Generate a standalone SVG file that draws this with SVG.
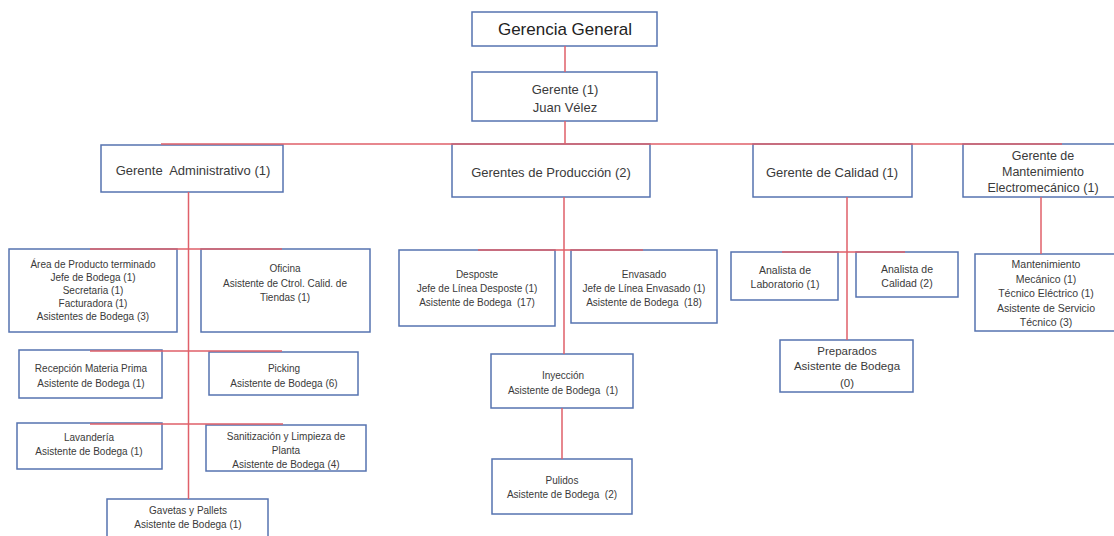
<svg xmlns="http://www.w3.org/2000/svg" width="1114" height="536" viewBox="0 0 1114 536">
<style>
.box{fill:#ffffff;stroke:#5673b0;stroke-width:1.5}
.t{font-family:"Liberation Sans",Arial,sans-serif;fill:#3a3a3a;text-anchor:middle}
.xl{font-size:17px;fill:#222}
.l{font-size:13px}
.m{font-size:12.5px}
.s{font-size:10px}
.s2{font-size:10.5px}
.s3{font-size:11.5px}
.c{fill:none;stroke:#e0606a;stroke-width:1.5}
</style>
<rect width="1114" height="536" fill="#ffffff"/>
<g id="gerencia-general">
<rect class="box" x="472" y="12" width="185" height="34"/>
<text class="t xl" x="565" y="35">Gerencia General</text>
</g>
<g id="gerente">
<rect class="box" x="472" y="72" width="185" height="49"/>
<text class="t l" x="565" y="93.5">Gerente (1)</text>
<text class="t l" x="565" y="111.5">Juan Vélez</text>
</g>
<g id="gerente-administrativo">
<rect class="box" x="101" y="145" width="182" height="47"/>
<text class="t l" x="193" y="174.5" xml:space="preserve">Gerente  Administrativo (1)</text>
</g>
<g id="gerentes-produccion">
<rect class="box" x="452" y="144" width="198" height="53"/>
<text class="t l" x="551" y="176.5">Gerentes de Producción (2)</text>
</g>
<g id="gerente-calidad">
<rect class="box" x="753" y="144" width="159" height="53"/>
<text class="t l" x="832" y="176.5">Gerente de Calidad (1)</text>
</g>
<g id="gerente-mantenimiento">
<rect class="box" x="963" y="144" width="160" height="53"/>
<text class="t m" x="1043" y="159.5">Gerente de</text>
<text class="t m" x="1043" y="175.5">Mantenimiento</text>
<text class="t m" x="1043" y="191.5">Electromecánico (1)</text>
</g>
<g id="area-producto-terminado">
<rect class="box" x="9" y="249" width="168" height="83"/>
<text class="t s" x="93" y="267.5">Área de Producto terminado</text>
<text class="t s" x="93" y="280.5">Jefe de Bodega (1)</text>
<text class="t s" x="93" y="293.5">Secretaria (1)</text>
<text class="t s" x="93" y="306.5">Facturadora (1)</text>
<text class="t s" x="93" y="319.5">Asistentes de Bodega (3)</text>
</g>
<g id="oficina">
<rect class="box" x="201" y="249" width="169" height="83"/>
<text class="t s" x="285" y="271.5">Oficina</text>
<text class="t s" x="285" y="286.5">Asistente de Ctrol. Calid. de</text>
<text class="t s" x="285" y="300.5">Tiendas (1)</text>
</g>
<g id="recepcion">
<rect class="box" x="19" y="350" width="143" height="48"/>
<text class="t s" x="91" y="371.5">Recepción Materia Prima</text>
<text class="t s" x="91" y="386.5">Asistente de Bodega (1)</text>
</g>
<g id="picking">
<rect class="box" x="209" y="352" width="149" height="43"/>
<text class="t s" x="284" y="371.5">Picking</text>
<text class="t s" x="284" y="386.5">Asistente de Bodega (6)</text>
</g>
<g id="lavanderia">
<rect class="box" x="17" y="423" width="145" height="46"/>
<text class="t s" x="89" y="440.5">Lavandería</text>
<text class="t s" x="89" y="454.5">Asistente de Bodega (1)</text>
</g>
<g id="sanitizacion">
<rect class="box" x="206" y="425" width="160" height="46"/>
<text class="t s" x="286" y="439.5">Sanitización y Limpieza de</text>
<text class="t s" x="286" y="453.5">Planta</text>
<text class="t s" x="286" y="467.5">Asistente de Bodega (4)</text>
</g>
<g id="gavetas">
<rect class="box" x="107" y="499" width="161" height="48"/>
<text class="t s" x="188" y="513.5">Gavetas y Pallets</text>
<text class="t s" x="188" y="527.5">Asistente de Bodega (1)</text>
</g>
<g id="desposte">
<rect class="box" x="399" y="250" width="156" height="76"/>
<text class="t s" x="477" y="277.5">Desposte</text>
<text class="t s" x="477" y="291.5">Jefe de Línea Desposte (1)</text>
<text class="t s" x="477" y="306" xml:space="preserve">Asistente de Bodega  (17)</text>
</g>
<g id="envasado">
<rect class="box" x="571" y="250" width="146" height="73"/>
<text class="t s" x="644" y="277.5">Envasado</text>
<text class="t s" x="644" y="291.5">Jefe de Línea Envasado (1)</text>
<text class="t s" x="644" y="305.5" xml:space="preserve">Asistente de Bodega  (18)</text>
</g>
<g id="inyeccion">
<rect class="box" x="491" y="354" width="142" height="54"/>
<text class="t s" x="563" y="378.5">Inyección</text>
<text class="t s" x="563" y="393.5" xml:space="preserve">Asistente de Bodega  (1)</text>
</g>
<g id="pulidos">
<rect class="box" x="492" y="459" width="140" height="55"/>
<text class="t s" x="562" y="483.5">Pulidos</text>
<text class="t s" x="562" y="497.5" xml:space="preserve">Asistente de Bodega  (2)</text>
</g>
<g id="analista-laboratorio">
<rect class="box" x="731" y="252" width="107" height="48"/>
<text class="t s2" x="785" y="273.5">Analista de</text>
<text class="t s2" x="785" y="287.5">Laboratorio (1)</text>
</g>
<g id="analista-calidad">
<rect class="box" x="856" y="252" width="102" height="45"/>
<text class="t s2" x="907" y="272.5">Analista de</text>
<text class="t s2" x="907" y="286.5">Calidad (2)</text>
</g>
<g id="preparados">
<rect class="box" x="780" y="340" width="133" height="52"/>
<text class="t s3" x="847" y="355">Preparados</text>
<text class="t s3" x="847" y="370">Asistente de Bodega</text>
<text class="t s3" x="847" y="387">(0)</text>
</g>
<g id="mantenimiento">
<rect class="box" x="975" y="254" width="142" height="77"/>
<text class="t s2" x="1046" y="267.5">Mantenimiento</text>
<text class="t s2" x="1046" y="282.5">Mecánico (1)</text>
<text class="t s2" x="1046" y="296.5">Técnico Eléctrico (1)</text>
<text class="t s2" x="1046" y="311.5">Asistente de Servicio</text>
<text class="t s2" x="1046" y="325.5">Técnico (3)</text>
</g>
<g id="connectors">
<path class="c" d="M565 46V72M565 121V144M161 144H1062"/>
<path class="c" d="M188.5 192V499M90 249H282M90 351H282M90 424H283"/>
<path class="c" d="M564 197V354M478 250H643M562 408V459"/>
<path class="c" d="M847 197V340M782 252H905"/>
<path class="c" d="M1041 197V254"/>
</g>
</svg>
